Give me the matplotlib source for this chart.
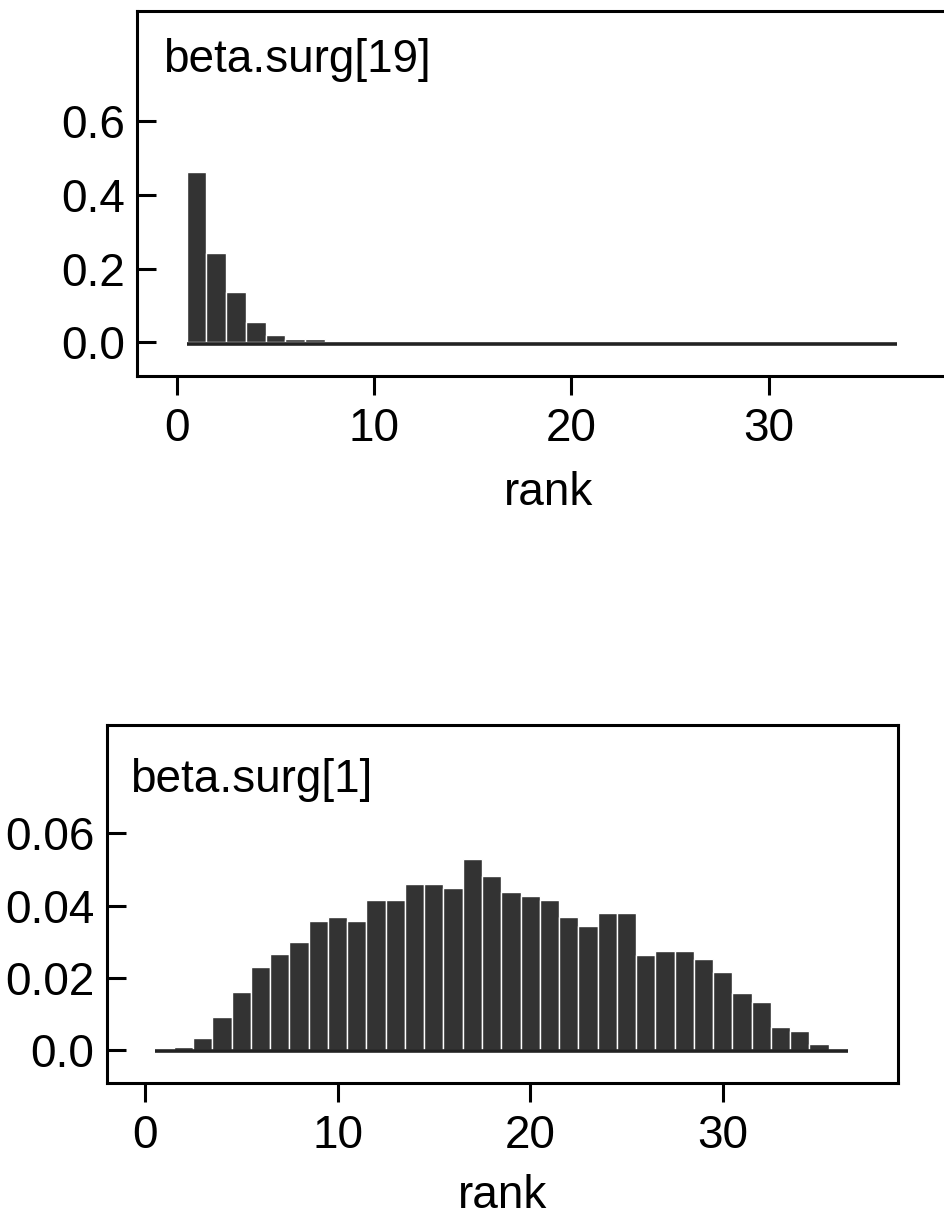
import matplotlib
matplotlib.use("Agg")
import matplotlib.pyplot as plt
import numpy as np

plt.rcParams['font.family'] = ['Liberation Sans', 'DejaVu Sans']

# ---- data ----
ranks = list(range(1, 37))
beta19 = [0.461, 0.241, 0.137, 0.056, 0.020, 0.009, 0.009,
          0.002, 0.002, 0.002, 0.002, 0.002, 0.002, 0.002, 0.002,
          0.002, 0.002, 0.002, 0.002, 0.002, 0.002, 0.002, 0.002,
          0.002, 0.002, 0.002, 0.002, 0.002, 0.002, 0.002, 0.002,
          0.002, 0.002, 0.002, 0.002, 0.002]
beta1 = [0.0002, 0.0008, 0.0032, 0.0090, 0.0160, 0.0230, 0.0265, 0.0298,
         0.0357, 0.0368, 0.0357, 0.0414, 0.0414, 0.0461, 0.0461, 0.0448,
         0.0529, 0.0483, 0.0437, 0.0426, 0.0414, 0.0367, 0.0344, 0.0379,
         0.0379, 0.0263, 0.0274, 0.0274, 0.0251, 0.0216, 0.0157, 0.0134,
         0.0065, 0.0053, 0.0017, 0.0002]
titles = ["beta.surg[19]", "beta.surg[1]"]
xticks = [0, 10, 20, 30]
yticks19 = [0.0, 0.2, 0.4, 0.6]
ylabels19 = ["0.0", "0.2", "0.4", "0.6"]
yticks1 = [0.0, 0.02, 0.04, 0.06]
ylabels1 = ["0.0", "0.02", "0.04", "0.06"]
xlabel = "rank"

W, H = 944, 1219
fig = plt.figure(figsize=(W / 100, H / 100), dpi=100)

FS = 33
BAR = '#333333'


def panel(rect, vals, title, yt, yl, ylim, xlim, tx, ty, lpad):
    ax = fig.add_axes(rect)
    x = np.array(ranks)
    ax.bar(x, vals, width=1.0, color=BAR, edgecolor='white', linewidth=1.0, zorder=2)
    ax.hlines(np.zeros(len(x)) - (ylim[1] - ylim[0]) * 0.004, x - 0.5, x + 0.5,
              colors='#222222', linewidth=2.6, zorder=3)
    ax.set_xlim(*xlim)
    ax.set_ylim(*ylim)
    ax.set_xticks(xticks)
    ax.set_xticklabels([str(t) for t in xticks])
    ax.set_yticks(yt)
    ax.set_yticklabels(yl)
    ax.tick_params(axis='y', direction='in', length=14, width=2.2, pad=9, labelsize=FS)
    ax.tick_params(axis='x', direction='out', length=14, width=2.2, pad=8, labelsize=FS)
    for s in ax.spines.values():
        s.set_linewidth(2.2)
        s.set_color('black')
    ax.set_xlabel(xlabel, fontsize=FS, labelpad=lpad)
    ax.text(tx, ty, title, transform=ax.transAxes, fontsize=FS, va='baseline', ha='left')
    return ax


# top panel (extends beyond right edge of figure)
l1, r1, t1, b1 = 137.3, 960.0, 11, 376
panel([l1 / W, 1 - b1 / H, (r1 - l1) / W, (b1 - t1) / H], beta19, titles[0],
      yticks19, ylabels19, (-0.0913, 0.898), (-2.0, 39.7), 0.031, 0.833, 14.5)

# bottom panel
l2, r2, t2, b2 = 107, 898, 725, 1083
panel([l2 / W, 1 - b2 / H, (r2 - l2) / W, (b2 - t2) / H], beta1, titles[1],
      yticks1, ylabels1, (-0.00914, 0.0900), (-1.97, 39.1), 0.029, 0.814, 12)

fig.savefig("out.png", dpi=100)
